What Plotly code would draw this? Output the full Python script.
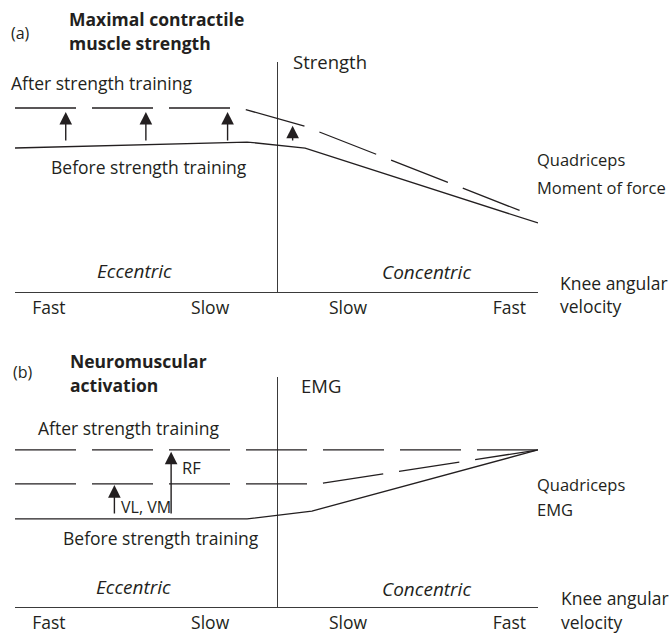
import plotly.graph_objects as go

# knee angular velocity axis (arbitrary units, eccentric < 0 < concentric)
x_range = [-101, 100]
tick_vals = [-88, -26, 27, 89]
tick_text = ["Fast", "Slow", "Slow", "Fast"]

# (a) strength curves
a_before_x = [-101, -11.8, 10.5, 100]
a_before_y = [62.6, 65.2, 62.6, 30.0]
a_after_x = [-101, -14.5, 10.5, 93.5]
a_after_y = [80.0, 80.0, 72.0, 35.2]
a_arrow_x = [-81.5, -50.7, -19.3, 5.7]
a_arrow_from = [65.2, 65.2, 65.2, 65.2]
a_arrow_to = [78.3, 78.3, 78.3, 72.3]

# (b) EMG curves
b_before_x = [-101, -11.8, 13.1, 100]
b_before_y = [38.3, 38.3, 41.7, 68.3]
b_vlvm_x = [-101, 15.4, 100]
b_vlvm_y = [53.5, 53.5, 68.3]
b_rf_x = [-101, 100]
b_rf_y = [68.3, 68.3]
b_arrow_x = [-62.8, -41.0]
b_arrow_from = [40.0, 40.0]
b_arrow_to = [53.0, 67.5]

W, H = 672, 636
INK = "#231f20"
FONT = "Open Sans"
DASH = "61px,16px"
FS = 17.5


def fx(px):
    return px / W


def fy(py):
    return 1 - py / H


def note(text, px, py, size=FS, bold=False, italic=False):
    if bold:
        text = "<b>" + text + "</b>"
    if italic:
        text = "<i>" + text + "</i>"
    return dict(text=text, x=fx(px), y=fy(py), xref="paper", yref="paper",
                xanchor="left", yanchor="middle", showarrow=False,
                font=dict(family=FONT, size=size, color=INK))


fig = go.Figure()

line_solid = dict(color=INK, width=1.3)
line_dash = dict(color=INK, width=1.3, dash=DASH)

fig.add_trace(go.Scatter(x=a_before_x, y=a_before_y, mode="lines", line=line_solid,
                         xaxis="x", yaxis="y"))
fig.add_trace(go.Scatter(x=a_after_x, y=a_after_y, mode="lines", line=line_dash,
                         xaxis="x", yaxis="y"))
fig.add_trace(go.Scatter(x=b_before_x, y=b_before_y, mode="lines", line=line_solid,
                         xaxis="x2", yaxis="y2"))
fig.add_trace(go.Scatter(x=b_vlvm_x, y=b_vlvm_y, mode="lines", line=line_dash,
                         xaxis="x2", yaxis="y2"))
fig.add_trace(go.Scatter(x=b_rf_x, y=b_rf_y, mode="lines", line=line_dash,
                         xaxis="x2", yaxis="y2"))

annotations = []
for x, y0, y1 in zip(a_arrow_x, a_arrow_from, a_arrow_to):
    annotations.append(dict(x=x, y=y1, ax=x, ay=y0, xref="x", yref="y", axref="x", ayref="y",
                            text="", showarrow=True, arrowhead=2, arrowsize=1.8,
                            arrowwidth=1.4, arrowcolor=INK, standoff=0))
for x, y0, y1 in zip(b_arrow_x, b_arrow_from, b_arrow_to):
    annotations.append(dict(x=x, y=y1, ax=x, ay=y0, xref="x2", yref="y2", axref="x2", ayref="y2",
                            text="", showarrow=True, arrowhead=2, arrowsize=1.8,
                            arrowwidth=1.4, arrowcolor=INK, standoff=0))

annotations += [
    # panel (a)
    note("(a)", 9, 33, size=16),
    note("Maximal contractile", 67, 19, bold=True),
    note("muscle strength", 67, 43, bold=True),
    note("Strength", 291, 62, size=18.5),
    note("After strength training", 9, 83),
    note("Before strength training", 49, 167),
    note("Quadriceps", 535, 160, size=16.5),
    note("Moment of force", 535, 188, size=16.5),
    note("Eccentric", 95, 271, size=19, italic=True),
    note("Concentric", 380, 272, size=19, italic=True),
    note("Knee angular", 558, 283),
    note("velocity", 558, 306),
    # panel (b)
    note("(b)", 11, 372, size=16),
    note("Neuromuscular", 68, 361, bold=True),
    note("activation", 68, 385, bold=True),
    note("EMG", 299, 385, size=18.5),
    note("After strength training", 36, 428),
    note("RF", 180, 467, size=16.5),
    note("VL, VM", 119, 507, size=16),
    note("Before strength training", 61, 538),
    note("Quadriceps", 535, 484, size=16.5),
    note("EMG", 535, 509, size=16.5),
    note("Eccentric", 94, 587, size=19, italic=True),
    note("Concentric", 380, 589, size=19, italic=True),
    note("Knee angular", 559, 598),
    note("velocity", 559, 622),
]

xdom = [fx(15), fx(538)]
common_x = dict(domain=xdom, range=x_range, showgrid=False, zeroline=True,
                zerolinecolor="#3a3a3a", zerolinewidth=1.3, showline=True,
                linecolor="#3a3a3a", linewidth=1.3, ticks="", tickvals=tick_vals,
                ticktext=tick_text, tickfont=dict(family=FONT, size=FS, color=INK),
                fixedrange=True)
common_y = dict(range=[0, 100], showgrid=False, zeroline=False, showline=False,
                showticklabels=False, ticks="", fixedrange=True)

fig.update_layout(
    width=W, height=H,
    margin=dict(l=0, r=0, t=0, b=0),
    paper_bgcolor="white", plot_bgcolor="white",
    showlegend=False,
    xaxis=dict(common_x, anchor="y"),
    yaxis=dict(common_y, domain=[fy(292), fy(62)], anchor="x"),
    xaxis2=dict(common_x, anchor="y2"),
    yaxis2=dict(common_y, domain=[fy(607), fy(377)], anchor="x2"),
    annotations=annotations,
)

fig.write_html("out.html", config={"displayModeBar": False},
               post_script="document.body.style.margin='0';")
